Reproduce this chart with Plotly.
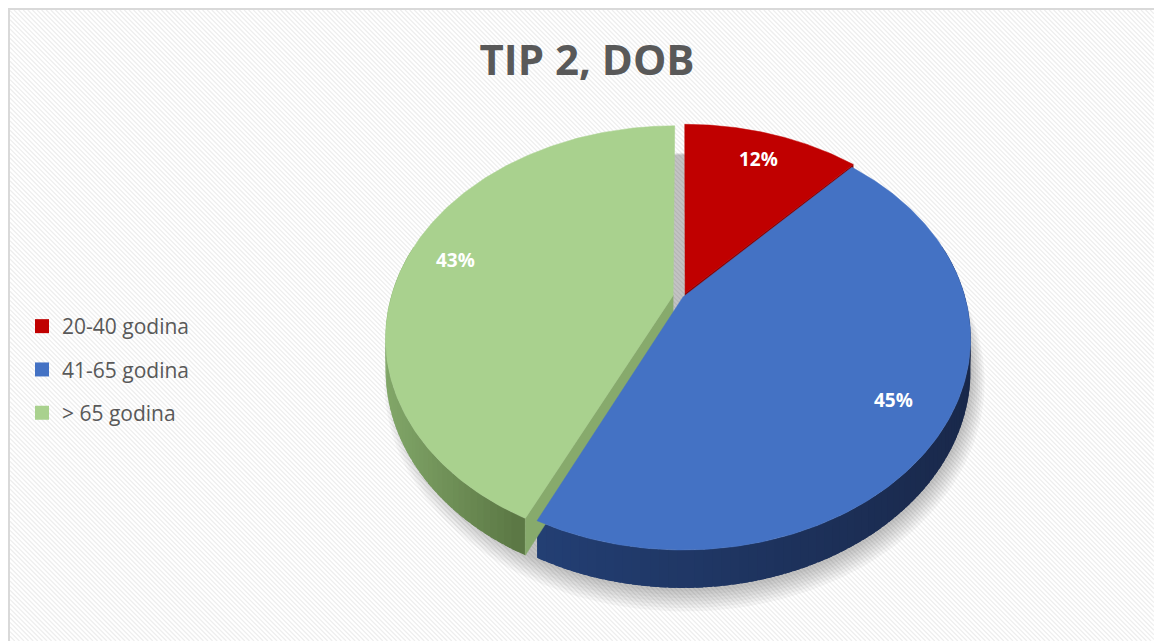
import numpy as np
import plotly.graph_objects as go

# ---------------- data ----------------
categories = ["20-40 godina", "41-65 godina", "> 65 godina"]
values = [12, 45, 43]
title_text = "TIP 2, DOB"

# ---------------- style ----------------
top_colors = ["#C00000", "#4472C4", "#A9D18E"]
wall_light = ["#9c0000", "#233f74", "#82a769"]
wall_dark = ["#7d0000", "#19284a", "#5a7643"]
radial_colors = ["#8c0000", "#233d6e", "#87aa6c"]
explode = [0.02, 0.0, 0.036]

W, H = 1154, 641
CX, CY = 683.0, 297.0
RX, RY = 282.0, 203.4
PERSP = 0.196
DEPTH = 30.5
TEXT_GRAY = "#595959"


def project(X, Y, drop=0.0):
    X = np.asarray(X, float)
    Y = np.asarray(Y, float)
    den = 1.0 + PERSP * Y
    return CX + RX * X / den, CY + (-RY * Y + drop) / den


def hex2rgb(h):
    h = h.lstrip("#")
    return np.array([int(h[i:i + 2], 16) for i in (0, 2, 4)], float)


def mix(c1, c2, t):
    c = hex2rgb(c1) * (1 - t) + hex2rgb(c2) * t
    return "rgb(%d,%d,%d)" % tuple(np.round(c).astype(int))


fig = go.Figure()

# ---------------- background stripes ----------------
bx0, by0 = 10, 10
sx, sy = [], []
for c in np.arange(-W, H, 4.6):
    xs0 = max(bx0, by0 - c)
    xs1 = min(W, H - c)
    if xs1 > xs0:
        sx += [xs0, xs1, None]
        sy += [xs0 + c, xs1 + c, None]
fig.add_trace(go.Scatter(x=sx, y=sy, mode="lines",
                         line=dict(color="#eeeeee", width=1.3),
                         hoverinfo="skip", showlegend=False))

# ---------------- geometry from values ----------------
total = float(sum(values))
fr = np.array(values, float) / total
ends = np.cumsum(fr) * 2 * np.pi
starts = np.concatenate([[0.0], ends[:-1]])
mids = (starts + ends) / 2
offs = [(explode[i] * np.sin(mids[i]), explode[i] * np.cos(mids[i])) for i in range(len(values))]

# ---------------- shadow ----------------
th = np.linspace(0, 2 * np.pi, 200)
for k in range(7):
    s = 1.0 + 0.007 * k
    shx, shy = project(s * np.sin(th), s * np.cos(th), DEPTH + 3 + k * 0.8)
    fig.add_trace(go.Scatter(x=shx + 1.5, y=shy, mode="lines", fill="toself",
                             fillcolor="rgba(0,0,0,0.035)", line=dict(width=0),
                             hoverinfo="skip", showlegend=False))

# ---------------- outer walls ----------------
wall_segs = []
for i in range(len(values)):
    ox, oy = offs[i]
    n = max(int(np.degrees(ends[i] - starts[i]) / 1.5), 2)
    edges = np.linspace(starts[i], ends[i], n + 1)
    step = edges[1] - edges[0]
    thv = np.linspace(starts[i], ends[i], 400)
    Yv = oy + np.cos(thv)
    vis = Yv < -PERSP + 0.02
    if vis.any():
        xv, _ = project(ox + np.sin(thv[vis]), Yv[vis])
        xmin, xmax = xv.min(), xv.max()
    else:
        xmin, xmax = 0, 1
    for k in range(n):
        t0 = edges[k]
        t1 = min(edges[k + 1] + 0.8 * step, ends[i])
        tt = np.linspace(t0, t1, 6)
        Xa = ox + np.sin(tt)
        Ya = oy + np.cos(tt)
        if Ya.mean() > 0.25:
            continue
        xt, yt = project(Xa, Ya)
        xb, yb = project(Xa, Ya, DEPTH)
        px = np.concatenate([xt, xb[::-1], xt[:1]])
        py = np.concatenate([yt, yb[::-1], yt[:1]])
        tcol = np.clip((xt.mean() - xmin) / max(xmax - xmin, 1), 0, 1)
        wall_segs.append((Ya.mean(), px, py, mix(wall_light[i], wall_dark[i], tcol)))

wall_segs.sort(key=lambda s: -s[0])
for _, px, py, col in wall_segs:
    fig.add_trace(go.Scatter(x=px, y=py, mode="lines", fill="toself", fillcolor=col,
                             line=dict(width=0), hoverinfo="skip",
                             showlegend=False))

# ---------------- radial walls ----------------
for i in range(len(values)):
    ox, oy = offs[i]
    for phi, ny in ((starts[i], np.sin(starts[i])), (ends[i], -np.sin(ends[i]))):
        if ny < -0.05:
            Xs = np.array([ox, ox + np.sin(phi)])
            Ys = np.array([oy, oy + np.cos(phi)])
            xt, yt = project(Xs, Ys)
            xb, yb = project(Xs, Ys, DEPTH)
            px = [xt[0], xt[1], xb[1], xb[0], xt[0]]
            py = [yt[0], yt[1], yb[1], yb[0], yt[0]]
            fig.add_trace(go.Scatter(x=px, y=py, mode="lines", fill="toself",
                                     fillcolor=radial_colors[i],
                                     line=dict(width=0.5, color=radial_colors[i]),
                                     hoverinfo="skip", showlegend=False))

# ---------------- top faces ----------------
for i in range(len(values)):
    ox, oy = offs[i]
    tt = np.linspace(starts[i], ends[i], 200)
    xa, ya = project(ox + np.sin(tt), oy + np.cos(tt))
    vx, vy = project(ox, oy)
    px = np.concatenate([[vx], xa, [vx]])
    py = np.concatenate([[vy], ya, [vy]])
    fig.add_trace(go.Scatter(x=px, y=py, mode="lines", fill="toself",
                             fillcolor=top_colors[i],
                             line=dict(width=0.5, color=top_colors[i]),
                             name=categories[i], hoverinfo="skip", showlegend=False))

# ---------------- data labels ----------------
for i in range(len(values)):
    ox, oy = offs[i]
    r = 0.82
    lx, ly = project(ox + r * np.sin(mids[i]), oy + r * np.cos(mids[i]))
    fig.add_annotation(x=float(lx), y=float(ly), text="<b>%d%%</b>" % round(fr[i] * 100),
                       showarrow=False,
                       font=dict(family="Open Sans", size=19, color="white"))

# ---------------- legend ----------------
for i in range(len(values)):
    fig.add_trace(go.Scatter(x=[None], y=[None], mode="markers",
                             marker=dict(symbol="square", size=14, color=top_colors[i]),
                             name=categories[i], legendgroup="g%d" % i,
                             showlegend=True))

fig.add_shape(type="rect", x0=23, y0=302, x1=195, y1=437, xref="x", yref="y",
              fillcolor="white", line=dict(width=0), layer="below")
fig.add_shape(type="rect", x0=9, y0=9, x1=W + 30, y1=H + 30, xref="x", yref="y",
              line=dict(color="#d9d9d9", width=2), fillcolor="rgba(0,0,0,0)")

fig.update_layout(
    width=W, height=H,
    margin=dict(l=0, r=0, t=0, b=0),
    paper_bgcolor="white", plot_bgcolor="white",
    title=dict(text="<b>%s</b>" % title_text, x=587 / W, xanchor="center",
               y=1 - 60 / H, yanchor="middle",
               font=dict(family="Open Sans", size=42, color=TEXT_GRAY)),
    xaxis=dict(range=[0, W], visible=False, fixedrange=True),
    yaxis=dict(range=[H, 0], visible=False, fixedrange=True),
    legend=dict(x=22 / W, y=1 - 306 / H, xanchor="left", yanchor="top",
                bgcolor="rgba(0,0,0,0)", tracegroupgap=13, itemwidth=30,
                font=dict(family="Open Sans", size=21, color=TEXT_GRAY)),
    showlegend=True,
)

fig.write_html("out.html",
               config={"displayModeBar": False},
               post_script="document.body.style.margin='0px';"
                           "document.body.style.overflow='hidden';")
